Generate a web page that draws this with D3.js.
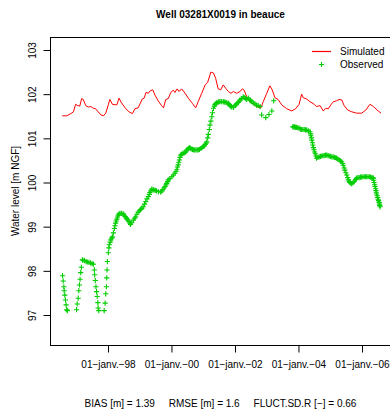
<!DOCTYPE html>
<meta charset="utf-8">
<style>
  body { margin: 0; background: #fff; }
  text { font-family: "Liberation Sans", Arial, sans-serif; fill: #000; }
</style>
<div id="chart"></div>
<script src="https://d3js.org/d3.v7.min.js"></script>
<script>

// chart texts
var title = "Well 03281X0019 in beauce";
var yLabel = "Water level [m NGF]";
var statsText = "BIAS [m] = 1.39     RMSE [m] = 1.6     FLUCT.SD.R [\u2212] = 0.66";
var seriesNames = ["Simulated", "Observed"];

// axis ticks
var yTicks = [97, 98, 99, 100, 101, 102, 103];
var xTickYears = [1998, 2000, 2002, 2004, 2006];
var xTickLabels = ["01\u2212janv.\u221298", "01\u2212janv.\u221200", "01\u2212janv.\u221202",
                   "01\u2212janv.\u221204", "01\u2212janv.\u221206"];

// simulated level, [decimal year, m NGF]
var simulated = [
  [1996.56,101.51],[1996.70,101.51],[1996.83,101.56],[1996.91,101.60],[1996.98,101.77],
  [1997.05,101.74],[1997.11,101.73],[1997.17,101.90],[1997.22,101.88],[1997.30,101.74],
  [1997.38,101.71],[1997.46,101.72],[1997.54,101.68],[1997.61,101.67],[1997.69,101.60],
  [1997.78,101.53],[1997.86,101.51],[1997.93,101.57],[1998.01,101.76],[1998.06,101.88],
  [1998.14,101.77],[1998.22,101.76],[1998.28,101.76],[1998.35,101.91],[1998.41,101.82],
  [1998.54,101.69],[1998.66,101.60],[1998.77,101.56],[1998.85,101.67],[1998.95,101.69],
  [1999.08,101.89],[1999.14,101.91],[1999.20,102.04],[1999.27,102.02],[1999.32,102.07],
  [1999.41,102.10],[1999.48,101.98],[1999.58,101.85],[1999.69,101.74],[1999.75,101.69],
  [1999.82,101.88],[1999.90,101.90],[1999.98,102.04],[2000.06,102.09],[2000.11,102.04],
  [2000.18,102.12],[2000.24,102.06],[2000.32,102.12],[2000.43,102.02],[2000.53,101.91],
  [2000.66,101.79],[2000.76,101.69],[2000.84,101.83],[2000.95,102.02],[2001.06,102.21],
  [2001.14,102.27],[2001.24,102.50],[2001.32,102.48],[2001.39,102.36],[2001.47,102.12],
  [2001.55,102.10],[2001.63,102.21],[2001.71,102.13],[2001.79,102.06],[2001.87,102.02],
  [2001.95,102.06],[2002.05,102.02],[2002.16,102.06],[2002.23,102.12],[2002.29,102.09],
  [2002.37,101.94],[2002.47,101.83],[2002.58,101.77],[2002.68,101.72],[2002.82,101.69],
  [2002.89,101.83],[2003.00,102.02],[2003.10,102.19],[2003.17,102.10],[2003.26,101.92],
  [2003.36,101.88],[2003.47,101.76],[2003.63,101.67],[2003.79,101.62],[2003.91,101.67],
  [2004.02,101.77],[2004.07,101.91],[2004.10,102.00],[2004.15,101.92],[2004.26,101.89],
  [2004.36,101.83],[2004.50,101.77],[2004.57,101.72],[2004.68,101.74],[2004.78,101.62],
  [2004.86,101.68],[2004.94,101.67],[2005.02,101.76],[2005.10,101.83],[2005.20,101.85],
  [2005.28,101.88],[2005.36,101.87],[2005.44,101.74],[2005.55,101.64],[2005.68,101.60],
  [2005.83,101.57],[2005.99,101.57],[2006.12,101.64],[2006.25,101.77],[2006.36,101.72],
  [2006.51,101.62],[2006.60,101.57]
];

// observed level, [decimal year, m NGF]
var observed = [
  [1996.57,97.89],[1996.59,97.77],[1996.61,97.64],[1996.62,97.55],[1996.64,97.45],
  [1996.66,97.34],[1996.68,97.23],[1996.70,97.12],[1996.72,97.10],
  [1997.01,97.12],[1997.03,97.25],[1997.06,97.38],[1997.08,97.55],[1997.10,97.68],
  [1997.12,97.81],[1997.14,97.96],[1997.16,98.08],[1997.19,98.25],
  [1997.21,98.24],[1997.26,98.23],[1997.31,98.21],[1997.35,98.20],[1997.40,98.19],
  [1997.45,98.18],[1997.50,98.16],[1997.54,98.15],
  [1997.57,98.02],[1997.58,97.91],[1997.60,97.78],[1997.62,97.64],[1997.64,97.53],
  [1997.66,97.42],[1997.68,97.28],[1997.69,97.16],[1997.71,97.10],
  [1997.88,97.10],[1997.91,97.27],[1997.93,97.48],[1997.95,97.64],[1997.96,97.84],
  [1997.97,98.02],[1997.98,98.21],[1998.01,98.41],
  [1998.03,98.52],[1998.04,98.59],[1998.07,98.65],[1998.09,98.70],[1998.12,98.74],
  [1998.14,98.77],[1998.17,98.86],[1998.20,98.96],[1998.22,99.02],[1998.24,99.08],
  [1998.26,99.13],[1998.28,99.17],[1998.30,99.22],[1998.32,99.26],[1998.35,99.29],
  [1998.38,99.30],[1998.43,99.30],[1998.48,99.29],[1998.51,99.26],[1998.54,99.23],
  [1998.57,99.20],[1998.60,99.17],[1998.63,99.15],[1998.66,99.12],[1998.69,99.08],
  [1998.71,99.05],[1998.75,99.09],[1998.80,99.15],[1998.84,99.19],[1998.87,99.22],
  [1998.91,99.28],[1998.95,99.33],[1998.99,99.36],[1999.03,99.39],[1999.07,99.42],
  [1999.11,99.45],[1999.15,99.51],[1999.19,99.57],[1999.23,99.63],[1999.27,99.68],
  [1999.30,99.73],[1999.32,99.77],[1999.35,99.81],[1999.38,99.85],[1999.42,99.84],
  [1999.45,99.83],[1999.49,99.82],[1999.53,99.81],[1999.59,99.79],[1999.66,99.78],
  [1999.70,99.81],[1999.73,99.84],[1999.77,99.88],[1999.80,99.91],[1999.83,99.95],
  [1999.85,99.98],[1999.88,100.02],[1999.90,100.06],[1999.95,100.09],[2000.01,100.13],
  [2000.06,100.17],[2000.11,100.21],[2000.14,100.25],[2000.17,100.29],[2000.19,100.35],
  [2000.21,100.40],[2000.23,100.46],[2000.25,100.51],[2000.27,100.57],[2000.29,100.62],
  [2000.32,100.64],[2000.36,100.66],[2000.40,100.67],[2000.43,100.68],[2000.46,100.71],
  [2000.49,100.74],[2000.53,100.77],[2000.56,100.79],[2000.59,100.78],[2000.62,100.76],
  [2000.66,100.75],[2000.69,100.74],[2000.73,100.74],[2000.77,100.74],[2000.81,100.74],
  [2000.84,100.74],[2000.88,100.75],[2000.92,100.77],[2000.96,100.79],[2001.00,100.81],
  [2001.03,100.83],[2001.06,100.86],[2001.09,100.89],[2001.11,100.92],[2001.14,101.01],
  [2001.16,101.09],[2001.19,101.20],[2001.21,101.30],[2001.24,101.39],[2001.27,101.49],
  [2001.29,101.58],[2001.32,101.68],[2001.35,101.73],[2001.37,101.77],[2001.40,101.79],
  [2001.43,101.81],[2001.47,101.82],[2001.50,101.83],[2001.53,101.83],[2001.58,101.83],
  [2001.63,101.83],[2001.66,101.82],[2001.69,101.82],[2001.74,101.81],[2001.79,101.79],
  [2001.82,101.77],[2001.84,101.74],[2001.87,101.72],[2001.90,101.71],[2001.95,101.70],
  [2002.00,101.74],[2002.03,101.76],[2002.05,101.78],[2002.10,101.81],[2002.13,101.84],
  [2002.16,101.87],[2002.21,101.90],[2002.26,101.94],[2002.31,101.92],[2002.34,101.90],
  [2002.37,101.88],[2002.42,101.91],[2002.47,101.87],[2002.50,101.85],[2002.53,101.83],
  [2002.58,101.80],[2002.63,101.78],[2002.68,101.75],[2002.73,101.74],[2002.79,101.72],
  [2002.84,101.53],[2002.97,101.47],[2003.07,101.54],[2003.16,101.62],[2003.22,101.85],
  [2003.82,101.26],[2003.85,101.26],[2003.88,101.26],[2003.91,101.25],[2003.94,101.25],
  [2003.98,101.24],[2004.02,101.23],[2004.06,101.21],[2004.10,101.20],[2004.14,101.20],
  [2004.18,101.20],[2004.22,101.19],[2004.26,101.19],[2004.31,101.17],[2004.36,101.15],
  [2004.38,101.10],[2004.39,101.06],[2004.41,101.01],[2004.42,100.96],[2004.44,100.90],
  [2004.45,100.85],[2004.47,100.79],[2004.49,100.74],[2004.51,100.69],[2004.53,100.65],
  [2004.55,100.60],[2004.57,100.55],[2004.61,100.57],[2004.65,100.58],[2004.69,100.59],
  [2004.73,100.60],[2004.77,100.61],[2004.81,100.61],[2004.85,100.62],[2004.89,100.62],
  [2004.93,100.61],[2004.97,100.60],[2005.01,100.59],[2005.05,100.58],[2005.09,100.58],
  [2005.13,100.57],[2005.17,100.56],[2005.20,100.55],[2005.24,100.53],[2005.28,100.51],
  [2005.32,100.49],[2005.36,100.47],[2005.39,100.43],[2005.41,100.39],[2005.44,100.33],
  [2005.46,100.28],[2005.49,100.22],[2005.52,100.17],[2005.55,100.11],[2005.57,100.06],
  [2005.60,100.02],[2005.62,100.00],[2005.65,99.98],[2005.68,99.97],[2005.72,100.00],
  [2005.76,100.03],[2005.80,100.07],[2005.83,100.10],[2005.87,100.11],[2005.91,100.11],
  [2005.95,100.12],[2005.99,100.12],[2006.03,100.13],[2006.07,100.13],[2006.11,100.13],
  [2006.15,100.13],[2006.19,100.13],[2006.23,100.13],[2006.27,100.12],[2006.31,100.11],
  [2006.34,100.10],[2006.36,100.10],[2006.37,100.05],[2006.38,100.00],[2006.40,99.95],
  [2006.41,99.91],[2006.43,99.86],[2006.44,99.82],[2006.45,99.78],[2006.46,99.74],
  [2006.48,99.70],[2006.49,99.66],[2006.51,99.62],[2006.52,99.59],[2006.54,99.55],
  [2006.55,99.51],[2006.56,99.48],[2006.57,99.45]
];

var W = 390, H = 412;
var box = {left: 50, right: 391, top: 37, bottom: 345};

function toDate(yr) {
  var y0 = Math.floor(yr);
  var a = new Date(y0, 0, 1), b = new Date(y0 + 1, 0, 1);
  return new Date(+a + (yr - y0) * (b - a));
}

var svg = d3.select("#chart").append("svg")
    .attr("width", W)
    .attr("height", H);

var x = d3.scaleTime()
    .domain([new Date(1998, 0, 1), new Date(2006, 0, 1)])
    .range([108, 362]);

var y = d3.scaleLinear()
    .domain([97, 103])
    .range([315, 50]);

// title
svg.append("text")
    .attr("x", (box.left + box.right) / 2)
    .attr("y", 18)
    .attr("text-anchor", "middle")
    .style("font-size", "10px")
    .style("font-weight", "bold")
    .text(title);

// simulated line
var line = d3.line()
    .x(function(d) { return x(toDate(d[0])); })
    .y(function(d) { return y(d[1]); });

svg.append("path")
    .datum(simulated)
    .attr("fill", "none")
    .attr("stroke", "#ff0000")
    .attr("stroke-width", 1)
    .attr("d", line);

// observed points
var plus = "M-2.6,0H2.6M0,-2.6V2.6";
svg.append("g")
    .selectAll("path")
    .data(observed)
    .enter().append("path")
      .attr("transform", function(d) { return "translate(" + x(toDate(d[0])) + "," + y(d[1]) + ")"; })
      .attr("d", plus)
      .attr("stroke", "#00cd00")
      .attr("stroke-width", 1.1)
      .attr("fill", "none");

// box
svg.append("rect")
    .attr("x", box.left + 0.5)
    .attr("y", box.top + 0.5)
    .attr("width", box.right - box.left)
    .attr("height", box.bottom - box.top)
    .attr("fill", "none")
    .attr("stroke", "#000")
    .attr("stroke-width", 1);

// y axis
var gy = svg.append("g")
    .attr("transform", "translate(" + (box.left + 0.5) + ",0)")
    .call(d3.axisLeft(y).tickValues(yTicks).tickSize(7).tickPadding(0).tickFormat(d3.format("d")));
gy.select(".domain").remove();
gy.selectAll("line").attr("stroke", "#000");
gy.selectAll("text")
    .attr("x", 0).attr("dy", null)
    .attr("transform", "translate(-15,0) rotate(-90)")
    .attr("text-anchor", "middle")
    .style("font-size", "10px")
    .style("font-family", "'Liberation Sans', Arial, sans-serif");

// x axis
var gx = svg.append("g")
    .attr("transform", "translate(0," + (box.bottom + 0.5) + ")")
    .call(d3.axisBottom(x)
      .tickValues(xTickYears.map(function(v) { return new Date(v, 0, 1); }))
      .tickSize(7)
      .tickFormat(function(d, i) { return xTickLabels[i]; }));
gx.select(".domain").remove();
gx.selectAll("line").attr("stroke", "#000");
gx.selectAll("text")
    .attr("y", 22).attr("dy", null)
    .style("font-size", "10px")
    .style("font-family", "'Liberation Sans', Arial, sans-serif");

// y label
svg.append("text")
    .attr("transform", "translate(19," + ((box.top + box.bottom) / 2) + ") rotate(-90)")
    .attr("text-anchor", "middle")
    .style("font-size", "10px")
    .text(yLabel);

// stats line
svg.append("text")
    .attr("x", (box.left + box.right) / 2)
    .attr("y", 407)
    .attr("text-anchor", "middle")
    .style("font-size", "10px")
    .style("white-space", "pre")
    .text(statsText);

// legend
var legend = svg.append("g");
legend.append("path")
    .attr("d", "M312,51.5H331")
    .attr("fill", "none")
    .attr("stroke", "#ff0000")
    .attr("stroke-width", 1.2);
legend.append("path")
    .attr("transform", "translate(321.5,64.5)")
    .attr("d", plus)
    .attr("stroke", "#00cd00")
    .attr("stroke-width", 1.1)
    .attr("fill", "none");
legend.selectAll("text")
    .data(seriesNames)
    .enter().append("text")
      .attr("x", 340)
      .attr("y", function(d, i) { return 55 + i * 12.6; })
      .style("font-size", "10px")
      .text(function(d) { return d; });

</script>
